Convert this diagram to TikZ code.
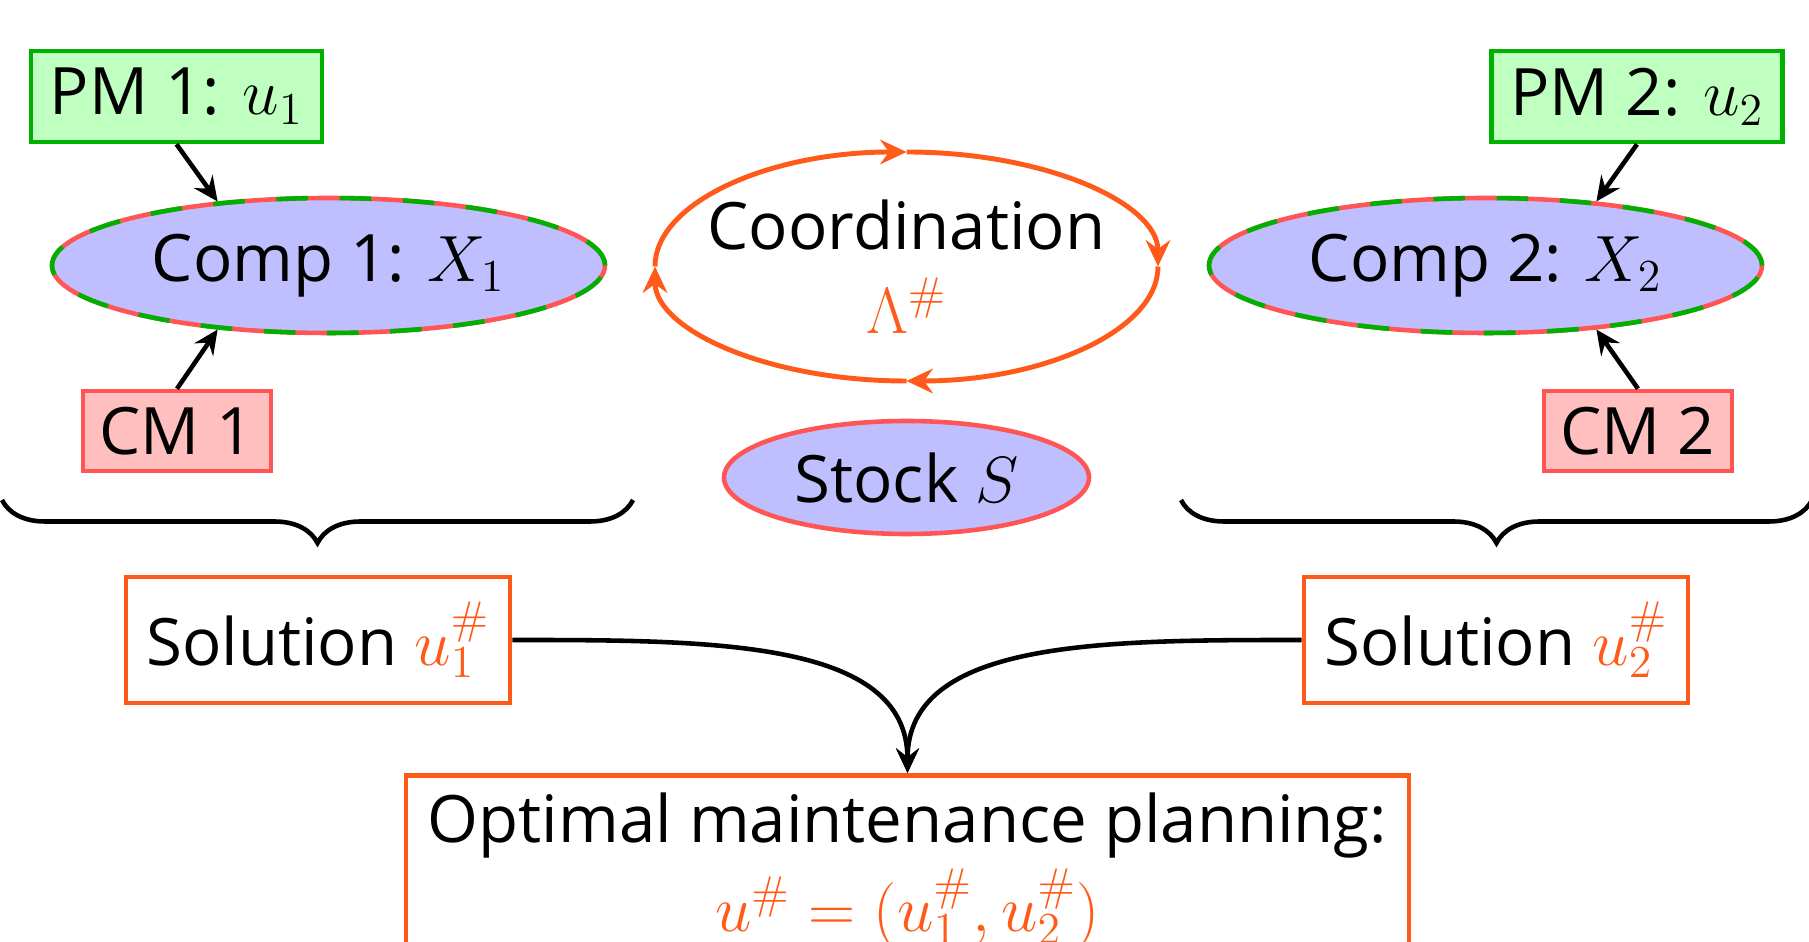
\RequirePackage{fix-cm}
\documentclass[tikz,border=0pt]{standalone}
\usepackage[no-math]{fontspec}
\setmainfont{Open Sans}
\usepackage{tikz}
\usetikzlibrary{arrows.meta, positioning, calc, shapes.geometric, decorations.pathreplacing}

\definecolor{pmfill}{RGB}{191,255,191}
\definecolor{pmline}{RGB}{0,176,0}
\definecolor{cmfill}{RGB}{255,191,191}
\definecolor{cmline}{RGB}{255,85,85}
\definecolor{compfill}{RGB}{191,191,255}
\definecolor{solorange}{RGB}{255,90,25}

\tikzset{
  every node/.style={font=\fontsize{18.6}{22}\selectfont},
  pmbox/.style={draw=pmline, fill=pmfill, line width=1.3pt, minimum width=2.91cm, minimum height=0.91cm},
  cmbox/.style={draw=cmline, fill=cmfill, line width=1.3pt, minimum width=1.88cm, minimum height=0.80cm},
  compnode/.style={ellipse, draw=cmline, fill=compfill, line width=1.3pt,
    minimum width=5.53cm, minimum height=1.35cm,
    postaction={draw=pmline, dash pattern=on 9pt off 9pt}},
  stocknode/.style={ellipse, draw=cmline, fill=compfill, line width=1.3pt, minimum width=3.65cm, minimum height=1.13cm},
  ringnode/.style={minimum width=5.03cm, minimum height=2.29cm, inner sep=0pt, outer sep=0pt, align=center},
  ring/.style={draw=solorange, line width=1.4pt, -{Stealth[length=7.5pt, width=7pt, inset=2.5pt]}},
  solbox/.style={draw=solorange, line width=1.3pt, minimum width=3.84cm, minimum height=1.26cm},
  optbox/.style={draw=solorange, line width=1.3pt, minimum width=10.03cm, inner ysep=5pt, align=center, anchor=north},
  bracket/.style={decorate, decoration={brace, mirror, amplitude=0.43cm}, line width=1.3pt},
}

\begin{document}
\begin{tikzpicture}[>={Stealth[length=7pt, width=6.5pt, inset=2.5pt]}, line width=1.3pt]
\useasboundingbox (0,0) rectangle (18.09,-9.42);
\clip (0,0) rectangle (18.09,-9.42);
% first component with its two maintenance actions
\node[compnode] (comp1) at (3.285,-2.655) {Comp 1: $X_1$};
\node[pmbox] (pm1) at (1.765,-0.965) {PM 1: $u_1$};
\node[cmbox] (cm1) at (1.77,-4.31) {CM 1};
\draw[->] (pm1.south) -- (comp1.150);
\draw[->] (cm1.north) -- (comp1.210);
% second component
\node[compnode] (comp2) at (14.855,-2.655) {Comp 2: $X_2$};
\node[pmbox] (pm2) at (16.37,-0.965) {PM 2: $u_2$};
\node[cmbox] (cm2) at (16.38,-4.31) {CM 2};
\draw[->] (pm2.south) -- (comp2.30);
\draw[->] (cm2.north) -- (comp2.-30);
% coordination loop, four quarter arcs
\node[ringnode] (coord) at (9.065,-2.665) {Coordination\\[2pt]{\color{solorange}$\Lambda^\#$}};
\foreach \from/\a in {west/180, north/90, east/0, south/-90}
  \draw[ring] (coord.\from) arc[start angle=\a, delta angle=-90, x radius=2.515cm, y radius=1.145cm];
\node[stocknode] (stock) at (9.065,-4.775) {Stock $S$};
% braces under each component group
\coordinate (brace1a) at (0.02,-5.0);
\coordinate (brace1b) at (6.33,-5.0);
\coordinate (brace2a) at (11.81,-5.0);
\coordinate (brace2b) at (18.12,-5.0);
\draw[bracket] (brace1a) -- (brace1b);
\draw[bracket] (brace2a) -- (brace2b);
% local solutions and the merged plan
\node[solbox] (sol1) at (3.18,-6.40) {Solution {\color{solorange}$u_1^\#$}};
\node[solbox] (sol2) at (14.96,-6.40) {Solution {\color{solorange}$u_2^\#$}};
\node[optbox] (opt) at (9.075,-7.73) {Optimal maintenance planning:\\[2pt]{\color{solorange}$u^\#=(u_1^\#,u_2^\#)$}};
\draw[->] (sol1.east) to[out=0, in=90, out distance=2cm, in distance=1.33cm] (opt.north);
\draw[->] (sol2.west) to[out=180, in=90, out distance=2cm, in distance=1.33cm] (opt.north);
\end{tikzpicture}
\end{document}
